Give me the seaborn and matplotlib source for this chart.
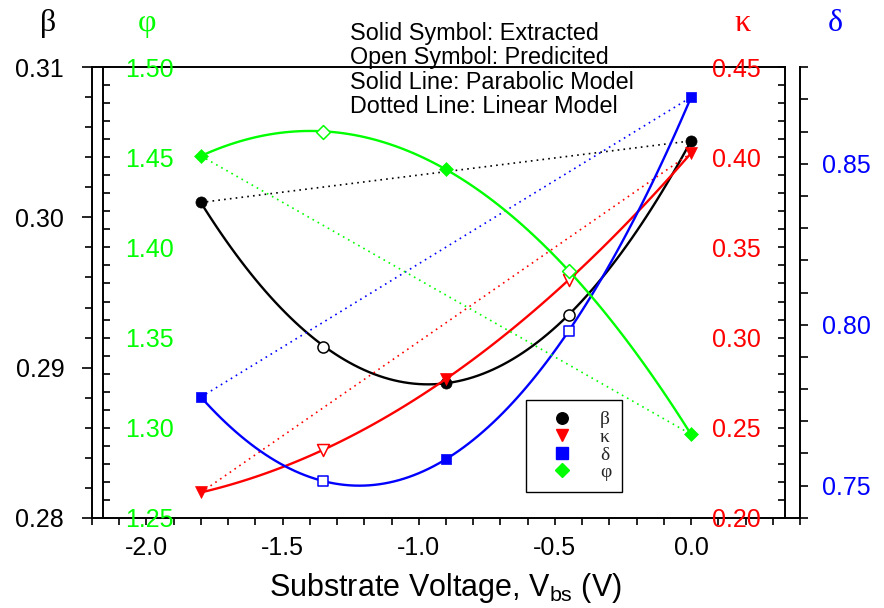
import matplotlib
matplotlib.use("Agg")
import matplotlib.pyplot as plt
import seaborn as sns
from matplotlib.lines import Line2D
from matplotlib.ticker import MultipleLocator

# ---------------- data ----------------
x_ext = [-1.8, -0.9, 0.0]          # solid symbols: extracted
x_pred = [-1.35, -0.45]            # open symbols: predicted

beta_ext = [0.3010, 0.2890, 0.3051]
beta_pred = [0.2914, 0.2935]
kappa_ext = [0.2140, 0.2770, 0.4024]
kappa_pred = [0.2378, 0.3319]
delta_ext = [0.7775, 0.7583, 0.8707]
delta_pred = [0.7513, 0.7979]
phi_ext = [1.4508, 1.4436, 1.2963]
phi_pred = [1.4643, 1.3869]

x_ticks = [-2.0, -1.5, -1.0, -0.5, 0.0]
x_ticklabels = ["-2.0", "-1.5", "-1.0", "-0.5", "0.0"]
beta_ticks = [0.28, 0.29, 0.30, 0.31]
beta_ticklabels = ["0.28", "0.29", "0.30", "0.31"]
phi_ticks = [1.25, 1.30, 1.35, 1.40, 1.45, 1.50]
phi_ticklabels = ["1.25", "1.30", "1.35", "1.40", "1.45", "1.50"]
kappa_ticks = [0.20, 0.25, 0.30, 0.35, 0.40, 0.45]
kappa_ticklabels = ["0.20", "0.25", "0.30", "0.35", "0.40", "0.45"]
delta_ticks = [0.75, 0.80, 0.85]
delta_ticklabels = ["0.75", "0.80", "0.85"]

series_names = ["β", "κ", "δ", "φ"]
notes = ["Solid Symbol: Extracted", "Open Symbol: Predicited",
         "Solid Line: Parabolic Model", "Dotted Line: Linear Model"]
xlabel = "Substrate Voltage, V$\\mathregular{_{bs}}$ (V)"

# ---------------- style ----------------
sns.set_theme(style="ticks")
plt.rcParams["font.family"] = ["Liberation Sans", "DejaVu Sans"]
plt.rcParams["mathtext.fontset"] = "custom"
plt.rcParams["mathtext.rm"] = "Liberation Sans"
plt.rcParams["mathtext.it"] = "Liberation Sans:italic"
plt.rcParams["axes.edgecolor"] = "black"
plt.rcParams["xtick.color"] = "black"
plt.rcParams["ytick.color"] = "black"

GREEN, RED, BLUE, BLACK = "#00FF00", "#FF0000", "#0000FF", "#000000"
SERIF = ["Liberation Serif", "DejaVu Serif"]
TICK_FS = 18
SPINE_W = 1.4

fig = plt.figure(figsize=(8.84, 6.08), dpi=100)
ax = fig.add_axes([92 / 884, (608 - 517.7) / 608, 708 / 884, 450.4 / 608])
ax.set_facecolor("white")
axk = ax.twinx()
axd = ax.twinx()
axphi = ax.twinx()

ax.set_xlim(-2.2, 0.4)
ax.set_ylim(0.28, 0.31)
axk.set_ylim(0.20, 0.45)
axd.set_ylim(0.74, 0.88)
axphi.set_ylim(1.25, 1.50)


def draw(a, ye, yp, color, marker, size):
    xs = x_ext + x_pred
    ys = ye + yp
    sns.regplot(x=xs, y=ys, order=2, ci=None, scatter=False, truncate=True,
                ax=a, line_kws=dict(color=color, lw=1.7, zorder=2))
    sns.lineplot(x=[x_ext[0], x_ext[-1]], y=[ye[0], ye[-1]], ax=a,
                 color=color, lw=1.2, linestyle=(0, (1, 2.5)), zorder=1)
    sns.scatterplot(x=x_pred, y=yp, ax=a, marker=marker, s=size, color="white",
                    edgecolor=color, linewidth=1.1, zorder=4, legend=False)
    sns.scatterplot(x=x_ext, y=ye, ax=a, marker=marker, s=size, color=color,
                    edgecolor=color, linewidth=0.5, zorder=4, legend=False)


draw(ax, beta_ext, beta_pred, BLACK, "o", 64)
draw(axk, kappa_ext, kappa_pred, RED, "v", 74)
draw(axd, delta_ext, delta_pred, BLUE, "s", 60)
draw(axphi, phi_ext, phi_pred, GREEN, "D", 50)

for a in (ax, axk, axd, axphi):
    a.set_xlabel("")
    a.set_ylabel("")
    a.set_xlim(-2.2, 0.4)

# ---- host (beta) axis ----
ax.spines["right"].set_visible(False)
ax.spines["top"].set_bounds(-2.2, 0.345)
for s in ("left", "bottom", "top"):
    ax.spines[s].set_linewidth(SPINE_W)
    ax.spines[s].set_color("black")
ax.set_xticks(x_ticks, labels=x_ticklabels)
ax.xaxis.set_minor_locator(MultipleLocator(0.1))
ax.tick_params(axis="x", which="both", direction="out", length=5, width=1.2,
               pad=8, labelsize=TICK_FS, top=False, bottom=True)
ax.set_yticks(beta_ticks, labels=beta_ticklabels)
ax.yaxis.set_minor_locator(MultipleLocator(0.002))
ax.tick_params(axis="y", which="major", direction="out", length=7, width=1.2,
               pad=13, labelsize=TICK_FS, labelcolor=BLACK, left=True, right=False)
ax.tick_params(axis="y", which="minor", direction="out", length=5, width=1.2,
               left=True, right=False)

# ---- kappa axis (inner right) ----
for s in axk.spines.values():
    s.set_visible(False)
axk.spines["right"].set_visible(True)
axk.spines["right"].set_position(("axes", 0.9788))
axk.spines["right"].set_linewidth(SPINE_W)
axk.spines["right"].set_color("black")
axk.set_yticks(kappa_ticks, labels=kappa_ticklabels)
axk.yaxis.set_minor_locator(MultipleLocator(0.01))
axk.tick_params(axis="y", which="both", direction="in", length=5, width=1.2,
                pad=-52.6, labelsize=TICK_FS, labelcolor=RED,
                right=True, left=False, labelright=True, labelleft=False)

# ---- delta axis (outer right) ----
for s in axd.spines.values():
    s.set_visible(False)
axd.spines["right"].set_visible(True)
axd.spines["right"].set_linewidth(SPINE_W)
axd.spines["right"].set_color("black")
axd.set_yticks(delta_ticks, labels=delta_ticklabels)
axd.yaxis.set_minor_locator(MultipleLocator(0.01))
axd.tick_params(axis="y", which="both", direction="out", length=6, width=1.2,
                pad=9.5, labelsize=TICK_FS, labelcolor=BLUE,
                right=True, left=False, labelright=True, labelleft=False)

# ---- phi axis (inner left) ----
for s in axphi.spines.values():
    s.set_visible(False)
axphi.yaxis.set_ticks_position("left")
axphi.spines["left"].set_visible(True)
axphi.spines["left"].set_position(("axes", 0.0155))
axphi.spines["left"].set_linewidth(SPINE_W)
axphi.spines["left"].set_color("black")
axphi.set_yticks(phi_ticks, labels=phi_ticklabels)
axphi.yaxis.set_minor_locator(MultipleLocator(0.01))
axphi.tick_params(axis="y", which="both", direction="in", length=5, width=1.2,
                  pad=-51.1, labelsize=TICK_FS, labelcolor=GREEN,
                  left=True, right=False, labelleft=True, labelright=False)

# ---- axis title letters ----
for name, xpix, color in zip(series_names, [48, 742, 835, 147], [BLACK, RED, BLUE, GREEN]):
    fig.text(xpix / 884, 1 - 31 / 608, name, color=color, family=SERIF,
             fontsize=23, ha="center", va="baseline")

# ---- notes ----
for i, line in enumerate(notes):
    fig.text(350 / 884, 1 - (40 + 24.3 * i) / 608, line, fontsize=16.8,
             ha="left", va="baseline", color="black")

# ---- x label ----
fig.text(445 / 884, 1 - 596 / 608, xlabel, fontsize=22, ha="center",
         va="baseline", color="black")

# ---- legend ----
handles = [
    Line2D([], [], marker="o", linestyle="none", color=BLACK, markersize=8.3),
    Line2D([], [], marker="v", linestyle="none", color=RED, markersize=8.8),
    Line2D([], [], marker="s", linestyle="none", color=BLUE, markersize=8),
    Line2D([], [], marker="D", linestyle="none", color=GREEN, markersize=7.3),
]
leg = fig.legend(handles, series_names, loc="upper left",
                 bbox_to_anchor=(526 / 884, 1 - 400 / 608), frameon=True,
                 fancybox=False, edgecolor="black", framealpha=1,
                 prop={"family": SERIF, "size": 14}, borderpad=0.55,
                 handlelength=2.6, handletextpad=0.66, labelspacing=0.0,
                 borderaxespad=0)
leg.get_frame().set_linewidth(1.0)

fig.savefig("out.png", dpi=100)
